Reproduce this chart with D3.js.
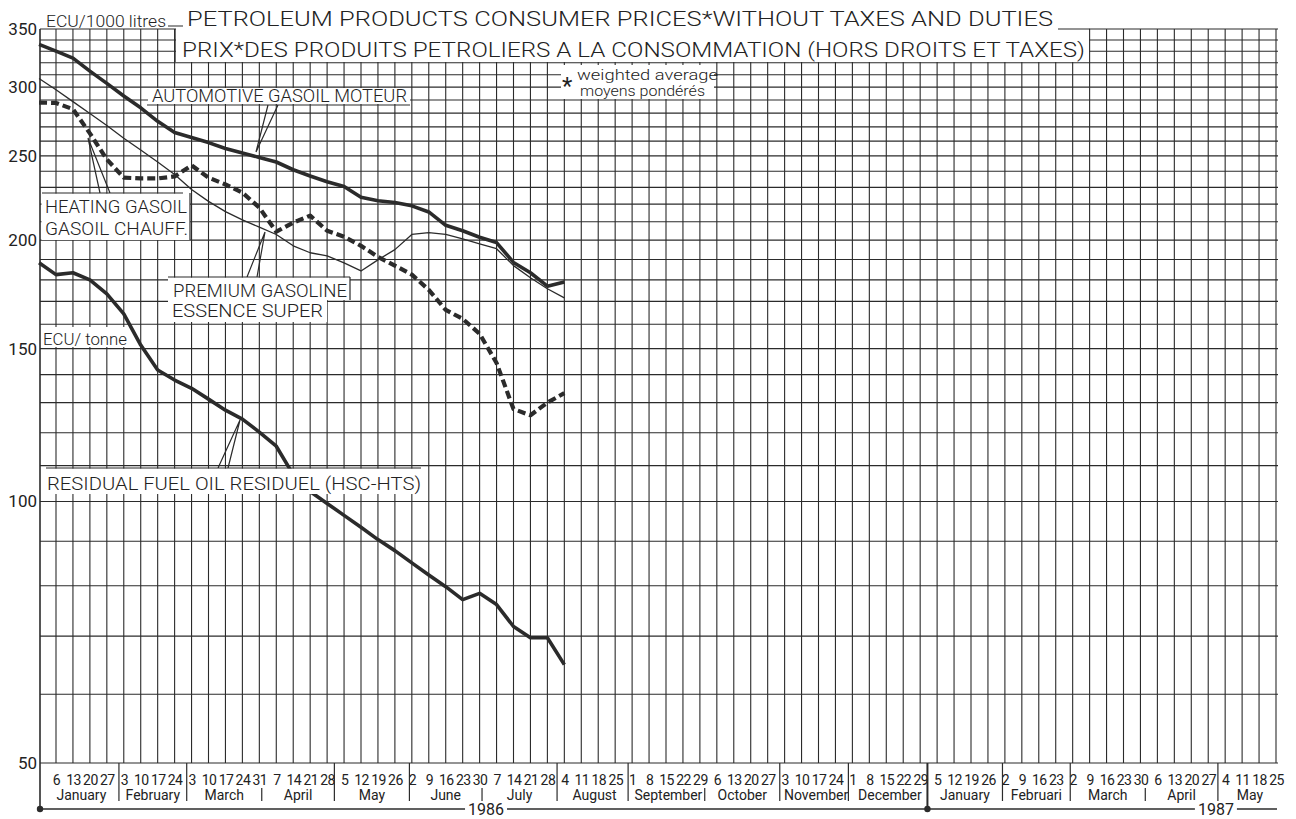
<!DOCTYPE html>
<html>
<head>
<meta charset="utf-8">
<script src="https://cdn.jsdelivr.net/npm/d3@7"></script>
<style>
  body { margin: 0; background: #fff; }
  text { font-family: Roboto, "Liberation Sans", sans-serif; fill: #222; }
  .lbl { font-weight: 300; }
</style>
</head>
<body>
<div id="viz"></div>
<script>
// weekly prices, Monday 30 Dec 1985 .. Monday 4 Aug 1986
var automotive = [336, 330, 324, 313, 303, 293, 284, 274, 266, 262.5, 259, 255, 252, 249, 246, 241,
                  237, 233.5, 230.5, 224, 222, 221, 219, 215.5, 208, 205, 201.5, 198.7, 188.5, 183.4, 177, 179];
var premium = [307, 298, 288.7, 279.8, 271, 262, 254, 246, 238, 228.7, 221.6, 215.7, 211, 207, 203, 197,
               193.4, 191.8, 188.3, 184.3, 189.8, 195, 203, 204, 203, 200.7, 198, 195.5, 186.9, 181, 175.8, 171.6];
var heating = [288, 287.7, 283, 265.4, 247.7, 236, 235.5, 235.5, 236.8, 243.8, 236, 231.8, 226.8, 218, 204.5, 209.5,
               213.4, 205, 201.8, 197, 191.3, 186.9, 182.5, 175.3, 166.2, 162.3, 156, 144.4, 127.8, 125.7, 130, 133.3];
var residual = [188.3, 182.5, 183.4, 180, 173.4, 164.5, 151.4, 141.7, 138, 135, 131.2, 127.4, 124.4, 120.2, 115.8, 107.4,
                102.7, 99.5, 96.4, 93.4, 90.4, 87.8, 85, 82.3, 79.8, 77.1, 78.4, 76.1, 71.8, 69.7, 69.7, 64.9];

var yTicks = [50, 100, 150, 200, 250, 300, 350];
var monthNames = ['January', 'February', 'March', 'April', 'May', 'June', 'July', 'August', 'September',
                  'October', 'November', 'December', 'January', 'Februari', 'March', 'April', 'May'];
var years = ['1986', '1987'];

var W = 1296, H = 819,
    plot = { left: 40, right: 1278, top: 29, bottom: 763 },
    yearLine = 809,
    ink = '#2b2b2b';

var dataDates = d3.utcMonday.range(new Date(Date.UTC(1985, 11, 30)), new Date(Date.UTC(1986, 7, 5)));
var weekDates = d3.utcMonday.range(new Date(Date.UTC(1986, 0, 6)), new Date(Date.UTC(1987, 4, 26)));
var monthStarts = d3.utcMonth.range(new Date(Date.UTC(1986, 0, 1)), new Date(Date.UTC(1987, 5, 2)));

var x = d3.scaleUtc()
    .domain([weekDates[0], weekDates[weekDates.length - 1]])
    .range([56, 1276]);

var y = d3.scaleLog()
    .domain([50, 350])
    .range([plot.bottom, plot.top]);

var svg = d3.select('#viz').append('svg')
    .attr('width', W)
    .attr('height', H);

// grid
svg.append('g').selectAll('line').data(d3.range(50, 351, 10))
  .enter().append('line')
    .attr('x1', plot.left).attr('x2', plot.right)
    .attr('y1', function(d) { return y(d); })
    .attr('y2', function(d) { return y(d); })
    .attr('stroke', ink).attr('stroke-width', 1.1);

svg.append('g').selectAll('line').data(weekDates)
  .enter().append('line')
    .attr('x1', function(d) { return x(d); })
    .attr('x2', function(d) { return x(d); })
    .attr('y1', plot.top).attr('y2', plot.bottom)
    .attr('stroke', ink).attr('stroke-width', 1.1);

// frame
svg.append('line')
    .attr('x1', plot.left).attr('x2', plot.left)
    .attr('y1', plot.top).attr('y2', yearLine)
    .attr('stroke', ink).attr('stroke-width', 1.6);

// series
var line = d3.line()
    .x(function(d, i) { return x(dataDates[i]); })
    .y(function(d) { return y(d); });

function drawSeries(values, width, dash) {
    svg.append('path')
        .datum(values)
        .attr('d', line)
        .attr('fill', 'none')
        .attr('stroke', ink)
        .attr('stroke-width', width)
        .attr('stroke-linejoin', 'round')
        .attr('stroke-dasharray', dash || null);
}
drawSeries(premium, 1.3);
drawSeries(automotive, 3.6);
drawSeries(residual, 3.6);
drawSeries(heating, 4.2, '8,4');

// label boxes
function box(x0, y0, x1, y1) {
    svg.append('rect')
        .attr('x', x0).attr('y', y0)
        .attr('width', x1 - x0).attr('height', y1 - y0)
        .attr('fill', '#fff');
}
function seg(path, w) {
    svg.append('path').attr('d', path)
        .attr('fill', 'none').attr('stroke', ink).attr('stroke-width', w || 1.2);
}
function label(str, x0, base, len, size) {
    svg.append('text')
        .attr('class', 'lbl')
        .attr('x', x0).attr('y', base)
        .attr('textLength', len)
        .attr('lengthAdjust', 'spacingAndGlyphs')
        .style('font-size', size + 'px')
        .text(str);
}

box(176, 0, 1089, 62);
box(148, 88, 410, 104);
box(561, 65, 714, 99);
box(41.5, 193.5, 190, 240);
box(168, 277.5, 350, 300);
box(168, 300, 327, 322);
box(41.5, 327, 128, 347);
box(41.5, 468.5, 423, 494);

seg('M1058,29H1089.5M168,26H183M175,29V62');
seg('M147,105H410M268,105L256,152M278,105L256,152');
seg('M42,193H183M190,193V240M100,193L88,138M110,193L88,138');
seg('M168,277H350M350,277V300M247,277L265,232M257,277L265,232');
seg('M46,468H421M218,468L240,420M228,468L240,420');

label('ECU/1000 litres', 46, 27, 120, 16);
label('PETROLEUM PRODUCTS CONSUMER PRICES*WITHOUT TAXES AND DUTIES', 187, 26, 866, 21);
label('PRIX*DES PRODUITS PETROLIERS A LA CONSOMMATION (HORS DROITS ET TAXES)', 182, 57, 903, 21);
label('AUTOMOTIVE GASOIL MOTEUR', 152, 102, 255, 18.5);
label('weighted average', 577, 80, 141, 15);
label('moyens pondérés', 580, 96, 125, 15);
svg.append('text').attr('x', 562).attr('y', 94).style('font-size', '24px').text('*');
label('HEATING GASOIL', 45, 213, 142, 18.5);
label('GASOIL CHAUFF.', 45, 235, 143, 18.5);
label('PREMIUM GASOLINE', 173, 297, 174, 18.5);
label('ESSENCE SUPER', 172, 317, 151, 18.5);
label('ECU/ tonne', 43, 345, 84, 17);
label('RESIDUAL FUEL OIL RESIDUEL (HSC-HTS)', 47, 490, 374, 18.5);

// y axis labels
var yAxis = svg.append('g')
    .attr('transform', 'translate(' + plot.left + ',0)')
    .call(d3.axisLeft(y).tickValues(yTicks).tickFormat(d3.format('d')).tickSize(0).tickPadding(3));
yAxis.select('.domain').remove();
yAxis.selectAll('text')
    .style('font-size', '17px')
    .style('font-family', 'Roboto, "Liberation Sans", sans-serif')
    .attr('fill', '#222');

// week labels
var xAxis = svg.append('g')
    .attr('transform', 'translate(0,' + plot.bottom + ')')
    .call(d3.axisBottom(x).tickValues(weekDates)
        .tickFormat(function(d) { return d.getUTCDate(); })
        .tickSize(0).tickPadding(12));
xAxis.select('.domain').remove();
xAxis.selectAll('text')
    .style('font-size', '14px')
    .style('letter-spacing', '-0.6px')
    .style('font-family', 'Roboto, "Liberation Sans", sans-serif')
    .attr('fill', '#222');

// month separators and names
monthStarts.forEach(function(d, i) {
    var day = d.getUTCDay(),
        mx = x(d) - (day === 1 ? 4 : 0);
    if (i > 0 && i < monthNames.length) {
        if (day === 2 || day === 3) {
            seg('M' + mx + ',788V801');
        } else if (i === 12) {
            seg('M' + mx + ',' + plot.bottom + 'V' + yearLine, 2);
        } else {
            seg('M' + mx + ',' + plot.bottom + 'V801');
        }
    }
    if (i < monthNames.length) {
        var a = Math.max(plot.left, x(d)),
            b = Math.min(1282, x(monthStarts[i + 1]));
        svg.append('text')
            .attr('x', (a + b) / 2).attr('y', 800)
            .attr('text-anchor', 'middle')
            .style('font-size', '14px')
            .text(monthNames[i]);
    }
});

// year line
seg('M' + plot.left + ',' + yearLine + 'H' + (plot.right - 1), 1.3);
[plot.left, x(monthStarts[12])].forEach(function(cx) {
    svg.append('circle').attr('cx', cx).attr('cy', yearLine).attr('r', 3.2).attr('fill', ink);
});
[[x(new Date(Date.UTC(1986, 6, 1))) + 4, years[0]], [x(new Date(Date.UTC(1987, 4, 1))) - 2, years[1]]].forEach(function(p) {
    box(p[0] - 21, yearLine - 6, p[0] + 21, yearLine + 6);
    svg.append('text')
        .attr('x', p[0]).attr('y', yearLine + 5.5)
        .attr('text-anchor', 'middle')
        .style('font-size', '16px')
        .text(p[1]);
});
</script>
</body>
</html>
